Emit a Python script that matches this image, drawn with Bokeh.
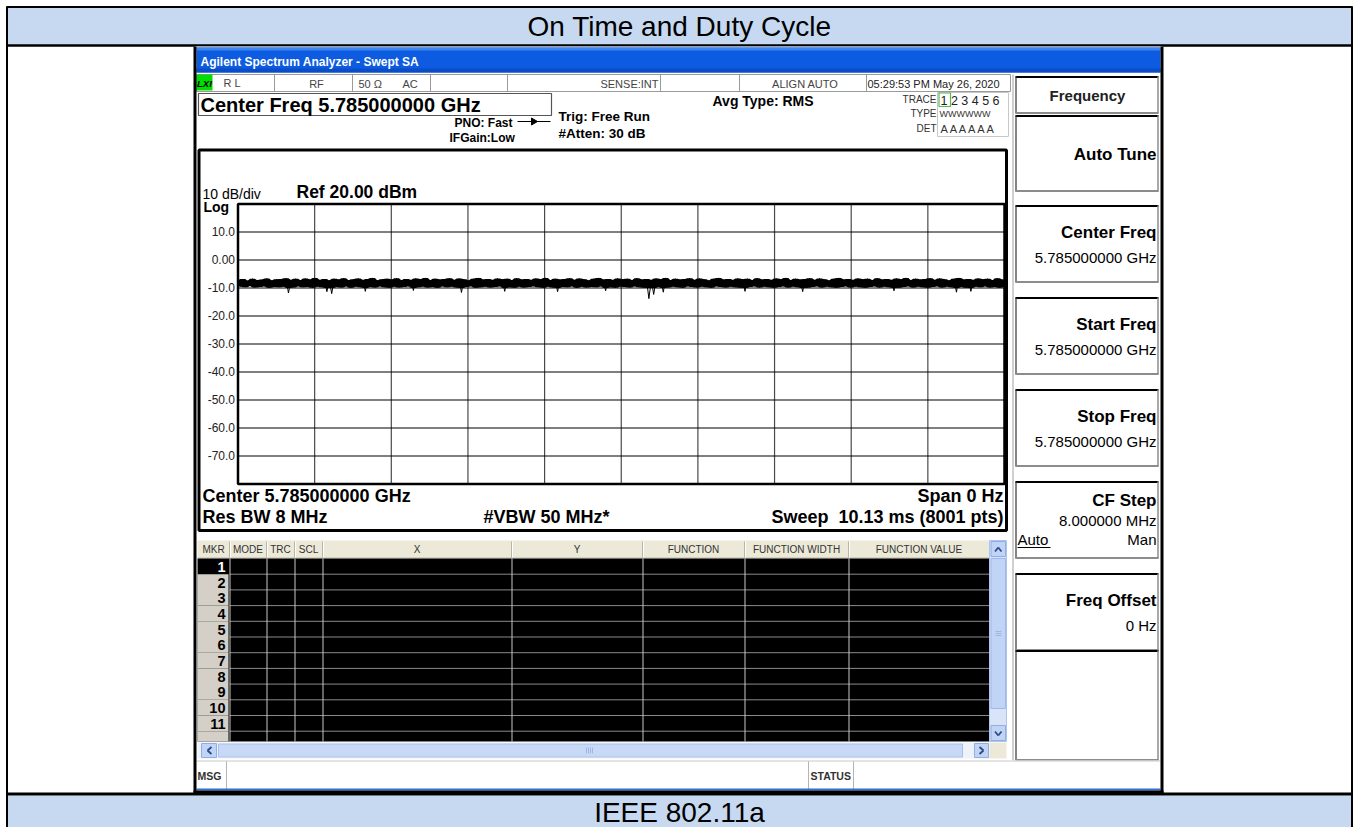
import numpy as np
from bokeh.plotting import figure
from bokeh.models import Range1d
from bokeh.core.properties import value
from bokeh.embed import file_html
from bokeh.resources import INLINE

# ---------------- data ----------------
TITLE = "On Time and Duty Cycle"
FOOTER = "IEEE 802.11a"
WINDOW_TITLE = "Agilent Spectrum Analyzer - Swept SA"
CENTER_FREQ_LABEL = "Center Freq 5.785000000 GHz"
REF_LEVEL_DBM = 20.0
DB_PER_DIV = 10.0
N_DIV = 10
SWEEP_MS = 10.13
Y_TICKS = [10, 0, -10, -20, -30, -40, -50, -60, -70]
Y_TICK_LABELS = ["10.0", "0.00", "-10.0", "-20.0", "-30.0", "-40.0", "-50.0", "-60.0", "-70.0"]
NOISE_FLOOR_DBM = -10.0   # lower edge of the dense part of the trace band

TRACE_DBM = [
    -7.1, -9.5, -6.8, -9.7, -7.4, -9.3, -6.7, -9.8, -7.2, -9.6,
    -7.0, -9.4, -6.6, -9.9, -7.3, -9.6, -6.9, -9.7, -6.8, -9.5,
    -6.5, -11.8, -7.1, -9.8, -6.7, -9.4, -7.2, -9.7, -6.6, -9.6,
    -7.0, -9.9, -6.4, -9.5, -7.1, -9.7, -6.8, -11.3, -7.3, -12.0,
    -6.7, -9.6, -7.0, -9.8, -6.5, -9.4, -7.2, -9.9, -6.9, -9.5,
    -6.6, -9.7, -7.1, -11.2, -6.8, -9.6, -6.4, -9.8, -7.3, -9.4,
    -6.9, -9.7, -6.7, -9.9, -7.0, -9.5, -6.5, -9.8, -7.2, -9.6,
    -6.8, -9.4, -7.1, -10.9, -6.6, -9.7, -6.9, -9.5, -6.4, -9.8,
    -7.2, -9.6, -6.7, -9.9, -7.0, -9.4, -6.8, -9.7, -6.5, -9.5,
    -7.1, -9.8, -6.6, -11.6, -6.9, -9.6, -7.3, -9.4, -6.7, -9.9,
    -6.4, -9.7, -7.0, -9.5, -6.8, -9.8, -7.1, -9.6, -6.6, -9.4,
    -6.9, -11.2, -6.7, -9.7, -7.2, -9.9, -6.5, -9.5, -7.0, -9.8,
    -6.8, -9.6, -7.1, -9.4, -6.6, -9.7, -6.9, -9.9, -6.4, -9.5,
    -7.2, -9.8, -6.7, -11.3, -7.0, -9.6, -6.8, -9.7, -6.5, -9.4,
    -7.1, -9.9, -6.6, -9.5, -6.9, -9.8, -7.3, -9.6, -6.7, -9.7,
    -6.4, -9.4, -7.0, -11.0, -6.8, -9.7, -7.1, -9.9, -6.6, -9.5,
    -6.9, -9.6, -6.7, -9.8, -7.2, -9.4, -6.5, -9.7, -7.0, -9.9,
    -6.8, -13.8, -7.1, -12.3, -6.6, -9.6, -6.9, -11.5, -6.4, -9.8,
    -7.2, -9.5, -6.7, -9.7, -7.0, -9.9, -6.8, -9.4, -6.5, -9.6,
    -7.1, -9.8, -6.6, -9.5, -6.9, -9.7, -7.3, -9.9, -6.7, -9.4,
    -6.4, -9.6, -7.0, -9.8, -6.8, -9.5, -7.1, -9.7, -6.6, -9.9,
    -6.9, -11.2, -6.7, -9.6, -7.2, -9.4, -6.5, -9.8, -7.0, -9.5,
    -6.8, -9.7, -7.1, -9.9, -6.6, -9.6, -6.9, -9.4, -6.4, -9.8,
    -7.2, -9.5, -6.7, -9.7, -7.0, -11.3, -6.8, -9.9, -6.5, -9.6,
    -7.1, -9.4, -6.6, -9.8, -6.9, -9.5, -7.3, -9.7, -6.7, -9.9,
    -6.4, -9.6, -7.0, -9.4, -6.8, -9.8, -7.1, -9.5, -6.6, -9.7,
    -6.9, -9.9, -6.7, -9.6, -7.2, -9.4, -6.5, -9.8, -7.0, -9.5,
    -6.8, -9.7, -7.1, -11.0, -6.6, -9.9, -6.9, -9.6, -6.4, -9.4,
    -7.2, -9.8, -6.7, -9.5, -7.0, -9.7, -6.8, -9.9, -6.5, -9.6,
    -7.1, -9.4, -6.6, -9.8, -6.9, -9.5, -7.3, -9.7, -6.7, -11.5,
    -6.4, -9.6, -7.0, -9.9, -6.8, -11.2, -7.1, -9.5, -6.6, -9.7,
    -6.9, -9.4, -6.7, -9.8, -7.2, -9.6, -6.5, -9.9, -7.0, -9.5,
]

STATUS_TEXT = ["R L", "RF", "50 \u03a9", "AC", "SENSE:INT", "ALIGN AUTO", "05:29:53 PM May 26, 2020"]
TRIG_TEXT = ["PNO: Fast", "IFGain:Low", "Trig: Free Run", "#Atten: 30 dB", "Avg Type: RMS"]
TRACE_INFO = ["TRACE", "TYPE", "DET"]
TRACE_NUMS = "1 2 3 4 5 6"
TRACE_TYPES = "WWWWWW"
TRACE_DETS = "A A A A A A"
SCALE_TEXT = ["10 dB/div", "Ref 20.00 dBm", "Log"]
BOTTOM_TEXT = ["Center 5.785000000 GHz", "Res BW 8 MHz", "#VBW 50 MHz*", "Span 0 Hz",
               "Sweep\u00a0\u00a010.13 ms (8001 pts)"]
SOFTKEY_HEADER = "Frequency"
SOFTKEYS = [("Auto Tune", None), ("Center Freq", "5.785000000 GHz"), ("Start Freq", "5.785000000 GHz"),
            ("Stop Freq", "5.785000000 GHz"), ("CF Step", "8.000000 MHz"), ("Freq Offset", "0 Hz")]
CF_STEP_MODES = ["Auto", "Man"]
MKR_COLUMNS = ["MKR", "MODE", "TRC", "SCL", "X", "Y", "FUNCTION", "FUNCTION WIDTH", "FUNCTION VALUE"]
MKR_ROWS = [str(i) for i in range(1, 12)]
MSG_LABELS = ["MSG", "STATUS"]

# ---------------- figure (coordinates = window pixels) ----------------
W, H = 1357, 827
X0, Y0 = 0, 0
SANS = "Liberation Sans"
BAND = "#C6D9F1"

p = figure(width=W, height=H, x_range=Range1d(X0, X0 + W), y_range=Range1d(Y0 + H, Y0),
           output_backend="svg", toolbar_location=None, min_border=0,
           x_axis_type=None, y_axis_type=None)
p.outline_line_color = None
p.background_fill_color = "white"
p.border_fill_color = "white"


def box(x0, y0, x1, y1, fill="white", line=None, lw=1.0):
    p.quad(left=[x0], right=[x1], top=[y0], bottom=[y1], fill_color=fill,
           line_color=line, line_width=lw)


def seg(x0, y0, x1, y1, color="black", lw=1.0):
    p.segment(x0=[x0], y0=[y0], x1=[x1], y1=[y1], line_color=color, line_width=lw)


def txt(x, y, s, size, color="black", bold=False, align="left", italic=False, font=SANS):
    style = "normal"
    if bold and italic:
        style = "bold italic"
    elif bold:
        style = "bold"
    elif italic:
        style = "italic"
    p.text(x=[x], y=[y], text=[s], text_font=value(font), text_font_size=f"{size}px",
           text_font_style=style, text_color=color, text_align=align, text_baseline="middle")


# outer document table
box(7, 7, 1351, 45, fill=BAND)
box(7, 795, 1351, H, fill=BAND)
seg(6, 45, 1352, 45, lw=2.5)
seg(6, 793.5, 1352, 793.5, lw=3)
seg(6.5, 6, 6.5, H, lw=2)
seg(6, 6.5, 1352, 6.5, lw=2)
seg(1351.5, 6, 1351.5, H, lw=2)
txt(679, 26, TITLE, 28, align="center")
txt(679, 812, FOOTER, 28, align="center")

# ---------------- analyzer screen ----------------
box(194, 46, 1162, 792, fill="white")
# title bar
box(196, 47, 1160, 72, fill="#0C5BE0")
box(196, 47, 1160, 50, fill="#3C86F2")
box(196, 68, 1160, 72, fill="#0A4DC6")
txt(200, 61, WINDOW_TITLE, 12, color="white", bold=True)

# status row
box(196, 74, 1010, 91, fill="white", line="#9A9A9A")
for sx in [274, 352, 430, 507, 660, 739, 866]:
    seg(sx, 74, sx, 91, color="#9A9A9A")
box(196, 74, 212, 90, fill="#00DD00")
txt(196.5, 82.5, "LXI", 9.5, bold=True, italic=True)
txt(223, 82.5, STATUS_TEXT[0], 11, color="#444444")
txt(316, 83, STATUS_TEXT[1], 11, color="#444444", align="center")
txt(358, 83, STATUS_TEXT[2], 11, color="#444444")
txt(402, 83, STATUS_TEXT[3], 11, color="#444444")
txt(658, 83, STATUS_TEXT[4], 11, color="#444444", align="right")
txt(838, 83, STATUS_TEXT[5], 11, color="#444444", align="right")
txt(867, 83, STATUS_TEXT[6], 11, color="#222222")

# center freq box and settings
box(198, 93, 551, 115, fill="white", line="#555555", lw=1.2)
txt(200, 104, CENTER_FREQ_LABEL, 20, bold=True)
txt(454, 122, TRIG_TEXT[0], 12, bold=True)
seg(517, 121, 550, 121, lw=1)
p.scatter(x=[533], y=[121], marker="triangle", size=7, angle=-np.pi / 2,
          fill_color="black", line_color="black")
txt(449, 137, TRIG_TEXT[1], 12, bold=True)
txt(558, 116, TRIG_TEXT[2], 13.5, bold=True)
txt(558, 133, TRIG_TEXT[3], 13.5, bold=True)
txt(712, 100, TRIG_TEXT[4], 14, bold=True)

# trace info box
box(937, 92, 1008, 136, fill="white", line="#C8C8C8")
txt(936, 99, TRACE_INFO[0], 10, color="#333333", align="right")
txt(936, 113, TRACE_INFO[1], 10, color="#333333", align="right")
txt(936, 128, TRACE_INFO[2], 10, color="#333333", align="right")
box(938.5, 92.5, 950, 106, fill=None, line="#55BB55", lw=1.2)
txt(940, 100, TRACE_NUMS, 12.5, color="#222222")
txt(939, 113, TRACE_TYPES, 9, color="#333333")
txt(940, 128, TRACE_DETS, 11, color="#333333")

# graph frame
box(198.5, 149.5, 1006, 530, fill="white", line="black", lw=3)
txt(202, 193, SCALE_TEXT[0], 14)
txt(296, 191, SCALE_TEXT[1], 17.5, bold=True)
txt(203, 206, SCALE_TEXT[2], 14, bold=True)
txt(202, 495, BOTTOM_TEXT[0], 18, bold=True)
txt(202, 516, BOTTOM_TEXT[1], 18, bold=True)
txt(483, 516, BOTTOM_TEXT[2], 18, bold=True)
txt(1003, 495, BOTTOM_TEXT[3], 18, bold=True, align="right")
txt(1003, 516, BOTTOM_TEXT[4], 18, bold=True, align="right")

# graticule and trace through a sub-coordinate mapping (ms, dBm)
bottom_db = REF_LEVEL_DBM - N_DIV * DB_PER_DIV
sub = p.subplot(x_source=Range1d(0, SWEEP_MS), y_source=Range1d(bottom_db, REF_LEVEL_DBM),
                x_target=Range1d(237.5, 1004), y_target=Range1d(483.5, 203.5))
gx = [k * SWEEP_MS / N_DIV for k in range(1, N_DIV)]
gy = [REF_LEVEL_DBM - k * DB_PER_DIV for k in range(1, N_DIV)]
sub.segment(x0=gx, x1=gx, y0=[bottom_db] * len(gx), y1=[REF_LEVEL_DBM] * len(gx),
            line_color="#4A4A4A", line_width=1.2)
sub.segment(x0=[0] * len(gy), x1=[SWEEP_MS] * len(gy), y0=gy, y1=gy,
            line_color="black", line_width=1)
tr = np.array(TRACE_DBM)
t = np.linspace(0, SWEEP_MS, len(tr))
padded = np.concatenate([[tr[0]], tr, [tr[-1]]])
env_hi = np.maximum(np.maximum(padded[:-2], padded[1:-1]), padded[2:])
env_lo = np.maximum(np.minimum(np.minimum(padded[:-2], padded[1:-1]), padded[2:]), NOISE_FLOOR_DBM)
sub.varea(x=t, y1=env_lo, y2=env_hi, fill_color="black")
sub.line(x=t, y=tr, line_color="black", line_width=1)
sub.quad(left=[0], right=[SWEEP_MS], top=[REF_LEVEL_DBM], bottom=[bottom_db],
         fill_color=None, line_color="black", line_width=2.5)
sub.text(x=[0] * len(Y_TICKS), y=Y_TICKS, text=Y_TICK_LABELS, x_offset=-3, y_offset=-1,
         text_align="right", text_baseline="middle", text_font=value(SANS),
         text_font_size="12px", text_color="#222222")

# ---------------- marker table ----------------
cols = [197, 229, 266, 294, 322, 511, 642, 744, 848, 989]
box(197, 540, 989, 557.5, fill="#ECE9D8")
seg(197, 557.5, 989, 557.5, color="#BDB8A4")
for i, name in enumerate(MKR_COLUMNS):
    cx = (cols[i] + cols[i + 1]) / 2
    txt(cx, 549, name, 10, color="#333333", align="center")
    if i > 0:
        seg(cols[i], 541, cols[i], 557, color="#B8B4A0")
        seg(cols[i] + 1, 541, cols[i] + 1, 557, color="white")
box(197, 558, 989, 741, fill="black")
row_h = 15.7
for k, lab in enumerate(MKR_ROWS):
    ry0 = 558 + k * row_h
    if k > 0:
        box(197, ry0, 228, ry0 + row_h, fill="#D4D0C8")
    txt(225, ry0 + row_h / 2 + 0.5, lab, 14.5, bold=True,
        color="white" if k == 0 else "black", align="right")
    seg(229, ry0 + row_h, 989, ry0 + row_h, color="#8A8A8A")
box(197, 558 + 11 * row_h, 228, 741, fill="#D4D0C8")
for cx in cols[1:-1]:
    seg(cx + 0.5, 558, cx + 0.5, 741, color="#C8C8C8")

# vertical scrollbar
box(989, 540, 1006, 741, fill="#D9E4F8", line="#AFC4EA")
box(990.5, 541, 1005, 556, fill="#C2D4F6", line="#8FAEE6")
box(990.5, 558, 1005, 708, fill="#C2D4F6", line="#9DB8EA")
box(990.5, 725, 1005, 740, fill="#C2D4F6", line="#8FAEE6")
seg(994.5, 551, 997.75, 547, color="#2B4A8A", lw=1.8)
seg(997.75, 547, 1001, 551, color="#2B4A8A", lw=1.8)
seg(994.5, 731, 997.75, 735, color="#2B4A8A", lw=1.8)
seg(997.75, 735, 1001, 731, color="#2B4A8A", lw=1.8)
for gyp in [631, 633, 635]:
    seg(995, gyp, 1001, gyp, color="#9FB6E0")
# horizontal scrollbar
box(197, 742, 989, 758, fill="#EEF2FA")
box(201, 743, 216, 757, fill="#C2D4F6", line="#8FAEE6")
box(218, 743.5, 962, 756.5, fill="#C8D9F7", line="#A8C0EC")
box(974, 743, 988, 757, fill="#C2D4F6", line="#8FAEE6")
seg(211, 746.5, 207, 750, color="#2B4A8A", lw=1.8)
seg(207, 750, 211, 753.5, color="#2B4A8A", lw=1.8)
seg(979, 746.5, 983, 750, color="#2B4A8A", lw=1.8)
seg(983, 750, 979, 753.5, color="#2B4A8A", lw=1.8)
for gxp in [586, 588, 590, 592]:
    seg(gxp, 747, gxp, 753, color="#9FB6E0")
box(989, 742, 1006, 758, fill="#ECE9D8")

# ---------------- softkey panel ----------------
seg(1012.5, 74, 1012.5, 760, color="#A0A0A0")


def softkey(y0, y1):
    box(1015, y0, 1158, y1, fill="white")
    seg(1015, y0 + 0.5, 1158, y0 + 0.5, color="black", lw=2)
    seg(1015.5, y0, 1015.5, y1, color="#333333", lw=1.2)
    seg(1015, y1 - 0.5, 1158, y1 - 0.5, color="#8C8C8C", lw=2)
    seg(1157.5, y0, 1157.5, y1, color="#8C8C8C", lw=1.5)


softkey(76, 113)
txt(1087, 94.5, SOFTKEY_HEADER, 15, bold=True, align="center", color="#222222")
key_tops = [115, 205, 297, 389, 481, 573]
key_h = 77
for (name, val), ky in zip(SOFTKEYS, key_tops):
    top = ky
    bot = ky + key_h if name != "Auto Tune" else 191
    softkey(top, bot)
    if val is None:
        txt(1156, 154, name, 17, bold=True, align="right")
    elif name == "CF Step":
        txt(1156, 500, name, 17, bold=True, align="right")
        txt(1156, 520, val, 15, align="right")
        txt(1017, 539, CF_STEP_MODES[0], 15)
        seg(1017, 547, 1050, 547, lw=1)
        txt(1156, 539, CF_STEP_MODES[1], 15, align="right")
    else:
        txt(1156, top + 27, name, 17, bold=True, align="right")
        txt(1156, top + 52, val, 15, align="right")
softkey(650, 760)

# ---------------- message bar ----------------
box(196, 760, 1160, 789, fill="white")
seg(196, 760.5, 1160, 760.5, color="#C8C8C8")
for sx in [226, 808, 853]:
    seg(sx, 761, sx, 789, color="#B4B4B4")
txt(197, 775, MSG_LABELS[0], 10.5, bold=True, color="#333333")
txt(810, 775, MSG_LABELS[1], 10.5, bold=True, color="#333333")
seg(196, 789, 1160, 789, color="#2E6FD0", lw=2)

# screen black border
seg(194.5, 46, 194.5, 793, lw=3)
seg(1161.5, 46, 1161.5, 793, lw=3)
seg(193, 791.5, 1163, 791.5, lw=3)

open("out.html", "w").write(file_html(p, INLINE))
